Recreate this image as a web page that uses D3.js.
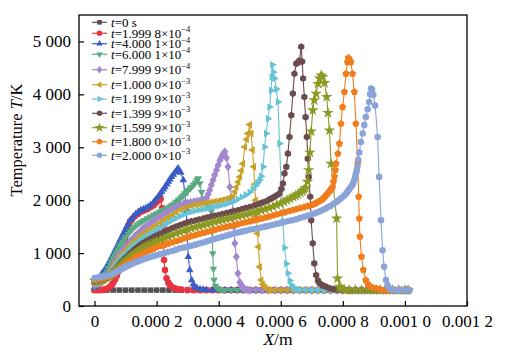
<!DOCTYPE html>
<html><head><meta charset="utf-8">
<script src="https://cdn.jsdelivr.net/npm/d3@7"></script>
<style>
body{margin:0;background:#fff}
svg{display:block}
text{font-family:"Liberation Serif","Times New Roman",serif;fill:#000}
</style>
</head><body>
<svg id="chart" width="510" height="358"></svg>
<script>
// ---------- data (x in micrometres, T in K) ----------
const seriesLabels = ["=0 s","=1.999 8×10","=4.000 1×10","=6.000 1×10","=7.999 9×10","=1.000 0×10","=1.199 9×10","=1.399 9×10","=1.599 9×10","=1.800 0×10","=2.000 0×10"];
const seriesExps = ["","−4","−4","−4","−4","−3","−3","−3","−3","−3","−3"];
const seriesColors = ["#525252","#e8343f","#3a5cc4","#5aab82","#a287cf","#c9a126","#66c3d6","#6b4b4e","#8c9a24","#f07c1c","#8aa4da"];
const seriesSymbols = ["square","circle","triUp","triDown","diamond","triLeft","triRight","hexagon","star","pentagon","circle"];

const s0 = [[0,300],[20,300],[40,300],[60,300],[80,300],[100,300],[120,300],[140,300],[160,300],[180,300],[200,300],[220,300],[240,300],[260,300],[280,300],[300,300],[320,300],[340,300],[360,300],[380,300],[400,300],[420,300],[440,300],[460,300],[480,300],[500,300],[520,300],[540,300],[560,300],[580,300],[600,300],[620,300],[640,300],[660,300],[680,300],[700,300],[720,300],[740,300],[760,300],[780,300],[800,300],[820,300],[840,300],[860,300],[880,300],[900,300],[920,300],[940,300],[960,300],[980,300],[1000,300],[1010,300]];
const s1 = [[0,300],[10,300],[20,300],[28,305],[34,310],[40,325],[45,340],[50,365],[56,400],[61,445],[66,500],[72,570],[77,650],[82,780],[88,950],[93,1100],[99,1250],[104,1450],[110,1530],[115,1600],[122,1650],[130,1700],[140,1740],[150,1780],[160,1805],[170,1830],[180,1865],[190,1900],[198,1950],[205,1990],[213,2020],[218,1850],[221,1500],[224,870],[227,680],[232,525],[238,440],[243,395],[250,360],[259,335],[270,318],[280,310],[300,300],[320,300],[340,300],[360,300],[380,300],[400,300],[420,300],[440,300],[460,300],[480,300],[500,300],[520,300],[540,300],[560,300],[580,300],[600,300],[620,300],[640,300],[660,300],[680,300],[700,300],[720,300],[740,300],[760,300],[780,300],[800,300],[820,300],[840,300],[860,300],[880,300],[900,300],[920,300],[940,300],[960,300],[980,300],[1000,300],[1010,300]];
const s2 = [[0,350],[6,380],[12,450],[18,530],[24,615],[30,660],[35,700],[40,750],[45,805],[50,860],[56,930],[61,990],[66,1055],[72,1120],[77,1180],[82,1245],[88,1310],[93,1375],[99,1440],[104,1500],[109,1560],[117,1630],[125,1690],[133,1740],[141,1780],[149,1810],[157,1830],[165,1850],[173,1875],[181,1910],[190,1960],[197,2010],[205,2065],[211,2110],[216,2160],[222,2205],[227,2250],[233,2300],[238,2350],[243,2395],[248,2440],[254,2485],[260,2530],[265,2570],[270,2600],[278,2520],[286,2380],[291,2125],[296,1800],[299,1300],[302,930],[307,680],[313,490],[318,410],[323,365],[330,340],[340,320],[350,310],[360,300],[380,300],[400,300],[420,300],[440,300],[460,300],[480,300],[500,300],[520,300],[540,300],[560,300],[580,300],[600,300],[620,300],[640,300],[660,300],[680,300],[700,300],[720,300],[740,300],[760,300],[780,300],[800,300],[820,300],[840,300],[860,300],[880,300],[900,300],[920,300],[940,300],[960,300],[980,300],[1000,300],[1010,300]];
const s3 = [[0,380],[10,410],[20,440],[25,490],[30,540],[35,595],[40,650],[45,715],[50,780],[55,840],[60,900],[65,955],[70,1010],[75,1065],[80,1120],[85,1165],[90,1210],[95,1255],[100,1300],[108,1355],[115,1410],[122,1455],[130,1500],[137,1535],[145,1570],[152,1595],[160,1620],[170,1655],[180,1690],[190,1720],[200,1750],[210,1780],[220,1810],[230,1840],[240,1870],[248,1900],[255,1930],[262,1965],[270,2000],[276,2030],[281,2060],[286,2090],[291,2125],[297,2160],[302,2190],[308,2220],[313,2250],[319,2290],[325,2330],[330,2380],[334,2410],[339,2315],[345,2150],[350,2030],[356,1950],[361,1900],[366,1870],[371,1840],[377,1800],[379,1400],[381,995],[383,700],[385,490],[390,380],[396,335],[404,315],[412,305],[420,300],[440,300],[460,300],[480,300],[500,300],[520,300],[540,300],[560,300],[580,300],[600,300],[620,300],[640,300],[660,300],[680,300],[700,300],[720,300],[740,300],[760,300],[780,300],[800,300],[820,300],[840,300],[860,300],[880,300],[900,300],[920,300],[940,300],[960,300],[980,300],[1000,300],[1010,300]];
const s4 = [[0,400],[10,415],[20,430],[25,460],[30,490],[35,525],[40,560],[45,610],[50,660],[55,715],[60,770],[65,820],[70,870],[75,915],[80,960],[85,1000],[90,1040],[95,1080],[100,1120],[108,1170],[115,1220],[122,1270],[130,1320],[137,1360],[145,1400],[152,1440],[160,1480],[170,1525],[180,1570],[190,1610],[200,1650],[212,1695],[225,1740],[237,1785],[250,1830],[263,1870],[276,1910],[288,1930],[300,1950],[310,1960],[320,1970],[330,1980],[340,1988],[350,1995],[356,2010],[361,2030],[366,2110],[371,2190],[376,2285],[382,2380],[387,2475],[393,2570],[398,2660],[404,2755],[408,2800],[412,2850],[416,2885],[420,2915],[425,2800],[430,2630],[436,2250],[441,2050],[446,1800],[449,1500],[452,1185],[457,930],[462,615],[468,450],[473,395],[478,350],[484,320],[492,305],[500,300],[520,300],[540,300],[560,300],[580,300],[600,300],[620,300],[640,300],[660,300],[680,300],[700,300],[720,300],[740,300],[760,300],[780,300],[800,300],[820,300],[840,300],[860,300],[880,300],[900,300],[920,300],[940,300],[960,300],[980,300],[1000,300],[1010,300]];
const s5 = [[0,420],[10,435],[20,450],[25,470],[30,490],[35,515],[40,540],[45,585],[50,630],[55,675],[60,720],[65,765],[70,810],[75,855],[80,900],[85,940],[90,980],[95,1015],[100,1050],[108,1095],[115,1140],[122,1185],[130,1230],[137,1270],[145,1310],[152,1345],[160,1380],[170,1420],[180,1460],[190,1495],[200,1530],[212,1580],[225,1630],[237,1675],[250,1720],[263,1770],[276,1820],[288,1845],[300,1870],[312,1890],[325,1910],[337,1925],[350,1940],[362,1952],[375,1965],[387,1977],[400,1990],[412,2005],[425,2025],[435,2045],[446,2065],[452,2160],[457,2250],[463,2345],[468,2440],[473,2560],[478,2690],[484,3005],[490,3150],[494,3260],[500,3430],[505,3260],[509,2950],[513,2630],[516,2300],[519,2000],[522,1700],[525,1370],[528,1120],[532,740],[537,490],[542,410],[548,365],[556,320],[564,300],[580,300],[600,300],[620,300],[640,300],[660,300],[680,300],[700,300],[720,300],[740,300],[760,300],[780,300],[800,300],[820,300],[840,300],[860,300],[880,300],[900,300],[920,300],[940,300],[960,300],[980,300],[1000,300],[1010,300]];
const s6 = [[0,440],[10,455],[20,470],[25,485],[30,500],[35,515],[40,530],[45,565],[50,600],[55,640],[60,680],[65,720],[70,760],[75,800],[80,840],[85,875],[90,910],[95,945],[100,980],[108,1025],[115,1070],[122,1110],[130,1150],[137,1185],[145,1220],[152,1255],[160,1290],[170,1325],[180,1360],[190,1395],[200,1430],[212,1480],[225,1530],[237,1575],[250,1620],[263,1660],[276,1700],[288,1730],[300,1760],[312,1780],[325,1800],[337,1815],[350,1830],[362,1845],[375,1860],[387,1875],[400,1890],[412,1910],[425,1930],[437,1955],[450,1980],[462,2020],[475,2060],[487,2100],[500,2150],[510,2210],[520,2280],[526,2330],[532,2380],[537,2450],[543,2630],[548,3005],[553,3260],[559,3540],[564,3760],[569,4075],[571,4330],[573,4560],[576,4420],[580,4300],[586,4100],[591,3855],[596,3070],[602,2200],[607,1600],[612,1100],[618,800],[623,620],[629,480],[634,400],[640,355],[645,330],[652,315],[660,305],[680,300],[700,300],[720,300],[740,300],[760,300],[780,300],[800,300],[820,300],[840,300],[860,300],[880,300],[900,300],[920,300],[940,300],[960,300],[980,300],[1000,300],[1010,300]];
const s7 = [[0,460],[10,470],[20,490],[30,505],[40,530],[45,555],[50,580],[55,610],[60,640],[65,675],[70,710],[75,745],[80,780],[85,815],[90,850],[95,880],[100,910],[108,950],[115,990],[122,1030],[130,1070],[137,1105],[145,1140],[152,1170],[160,1200],[170,1235],[180,1270],[190,1300],[200,1330],[212,1365],[225,1400],[237,1435],[250,1470],[263,1500],[276,1530],[288,1555],[300,1580],[312,1598],[325,1615],[337,1632],[350,1650],[362,1670],[375,1690],[387,1705],[400,1720],[412,1738],[425,1755],[437,1772],[450,1790],[462,1810],[475,1830],[487,1850],[500,1870],[515,1900],[530,1930],[541,1955],[553,1980],[564,2015],[575,2050],[585,2085],[596,2125],[602,2210],[607,2315],[612,2505],[618,2630],[623,2880],[628,3195],[634,3605],[639,4015],[644,4390],[650,4580],[655,4600],[660,4640],[666,4900],[669,4620],[672,4300],[676,3950],[680,3570],[684,3195],[687,2785],[690,2440],[695,2065],[698,1620],[703,1185],[708,805],[714,585],[720,480],[725,430],[735,390],[746,365],[758,335],[770,320],[785,305],[800,300],[820,300],[840,300],[860,300],[880,300],[900,300],[920,300],[940,300],[960,300],[980,300],[1000,300],[1010,300]];
const s8 = [[0,480],[10,490],[20,510],[30,520],[40,540],[45,560],[50,580],[55,600],[60,620],[65,645],[70,670],[75,700],[80,730],[85,760],[90,790],[95,820],[100,850],[108,885],[115,920],[122,955],[130,990],[137,1020],[145,1050],[152,1080],[160,1110],[170,1140],[180,1170],[190,1195],[200,1220],[212,1250],[225,1280],[237,1310],[250,1340],[263,1370],[276,1400],[288,1425],[300,1450],[312,1470],[325,1490],[337,1510],[350,1530],[362,1550],[375,1570],[387,1590],[400,1610],[412,1628],[425,1645],[437,1662],[450,1680],[462,1698],[475,1715],[487,1732],[500,1750],[512,1770],[525,1790],[537,1810],[550,1830],[562,1855],[575,1880],[587,1910],[600,1940],[610,1970],[620,2000],[630,2030],[640,2060],[648,2085],[655,2110],[663,2140],[670,2170],[675,2200],[680,2230],[686,2350],[690,2570],[694,2900],[698,3300],[703,3700],[708,3890],[714,4015],[720,4200],[725,4300],[730,4360],[735,4330],[741,4215],[748,3950],[752,3650],[757,3320],[762,2690],[780,1655],[783,520],[789,365],[795,330],[805,310],[820,300],[840,300],[860,300],[880,300],[900,300],[920,300],[940,300],[960,300],[980,300],[1000,300],[1010,300]];
const s9 = [[0,500],[10,510],[20,525],[30,535],[40,550],[45,562],[50,575],[55,592],[60,610],[65,630],[70,650],[75,670],[80,690],[85,715],[90,740],[95,765],[100,790],[108,820],[115,850],[122,880],[130,910],[137,935],[145,960],[152,985],[160,1010],[170,1035],[180,1060],[190,1085],[200,1110],[212,1133],[225,1155],[237,1178],[250,1200],[263,1225],[276,1250],[288,1275],[300,1300],[312,1320],[325,1340],[337,1360],[350,1380],[362,1400],[375,1420],[387,1440],[400,1460],[412,1478],[425,1495],[437,1512],[450,1530],[462,1548],[475,1565],[487,1582],[500,1600],[512,1618],[525,1635],[537,1652],[550,1670],[562,1690],[575,1710],[587,1730],[600,1750],[612,1770],[625,1790],[637,1810],[650,1830],[662,1850],[675,1870],[687,1890],[700,1910],[708,1930],[715,1950],[722,1975],[730,2000],[735,2025],[740,2050],[745,2085],[750,2120],[755,2155],[760,2190],[764,2220],[767,2250],[770,2350],[773,2450],[776,2570],[778,2690],[784,2880],[789,3070],[794,3445],[799,3760],[805,4045],[810,4390],[815,4610],[818,4690],[821,4660],[826,4610],[831,4390],[837,4045],[842,3445],[848,2690],[851,2065],[853,1655],[855,1310],[860,930],[866,680],[874,490],[880,420],[885,378],[895,350],[907,335],[920,315],[935,305],[950,300],[970,300],[990,300],[1005,300]];
const s10 = [[0,530],[10,540],[20,550],[30,560],[40,570],[45,580],[50,590],[55,600],[60,610],[65,628],[70,645],[75,662],[80,680],[85,695],[90,710],[95,725],[100,740],[108,760],[115,780],[122,800],[130,820],[137,838],[145,855],[152,872],[160,890],[170,908],[180,925],[190,943],[200,960],[212,980],[225,1000],[237,1020],[250,1040],[263,1065],[276,1090],[288,1105],[300,1120],[312,1140],[325,1160],[337,1180],[350,1200],[362,1222],[375,1245],[387,1268],[400,1290],[412,1310],[425,1330],[437,1350],[450,1370],[462,1388],[475,1405],[487,1422],[500,1440],[512,1455],[525,1470],[537,1485],[550,1500],[562,1518],[575,1535],[587,1552],[600,1570],[612,1588],[625,1605],[637,1622],[650,1640],[662,1662],[675,1685],[687,1708],[700,1730],[710,1752],[720,1775],[730,1800],[740,1830],[750,1860],[760,1890],[770,1930],[780,1970],[788,2005],[795,2040],[803,2080],[810,2120],[815,2160],[820,2200],[825,2240],[830,2280],[834,2330],[837,2380],[840,2440],[842,2500],[845,2560],[847,2630],[850,2760],[853,2900],[858,3100],[864,3260],[869,3420],[874,3570],[880,3720],[885,3855],[888,4000],[891,4110],[894,4090],[898,3990],[904,3790],[912,3195],[917,2440],[923,1620],[928,1055],[933,740],[939,490],[944,390],[949,335],[955,315],[962,305],[970,300],[980,300],[990,300],[1000,300],[1010,300],[1015,300]];
const seriesData = [s0,s1,s2,s3,s4,s5,s6,s7,s8,s9,s10];

const xTicks = [0,0.0002,0.0004,0.0006,0.0008,0.0010,0.0012];
const xTickLabels = ["0","0.000 2","0.000 4","0.000 6","0.000 8","0.001 0","0.001 2"];
const yTicks = [0,1000,2000,3000,4000,5000];
const yTickLabels = ["0","1 000","2 000","3 000","4 000","5 000"];

// ---------- layout ----------
const L = 79, R = 467, T = 15, B = 306;
const svg = d3.select("#chart");
const x = d3.scaleLinear().domain([-0.00005, 0.0012]).range([L, R]);
const y = d3.scaleLinear().domain([0, 5500]).range([B, T]);

function poly(n, r, rot, sx) {
  sx = sx || 1;
  const pts = d3.range(n).map(k => {
    const a = rot + k * 2 * Math.PI / n;
    return [sx * r * Math.sin(a), -r * Math.cos(a)];
  });
  return "M" + pts.map(p => p[0].toFixed(2) + "," + p[1].toFixed(2)).join("L") + "Z";
}
function symbolSet(k) {
  return {
    square: poly(4, 3.9 * k, Math.PI / 4),
    circle: d3.symbol(d3.symbolCircle, 34 * k * k)(),
    triUp: poly(3, 4.4 * k, 0),
    triDown: poly(3, 4.4 * k, Math.PI),
    triLeft: poly(3, 4.4 * k, -Math.PI / 2),
    triRight: poly(3, 4.4 * k, Math.PI / 2),
    diamond: poly(4, 4.4 * k, 0, 0.8),
    hexagon: poly(6, 3.6 * k, 0),
    star: d3.symbol(d3.symbolStar, 42 * k * k)(),
    pentagon: poly(5, 3.8 * k, 0)
  };
}
const symbolPaths = symbolSet(1);
const legendSymbols = symbolSet(0.85);

// series
const line = d3.line().x(d => x(d[0] * 1e-6)).y(d => y(d[1]));
const plot = svg.append("g");
seriesData.forEach((data, i) => {
  const g = plot.append("g");
  g.append("path").attr("d", line(data)).attr("fill", "none")
    .attr("stroke", seriesColors[i]).attr("stroke-width", 1.1);
  g.selectAll("path.m").data(data).enter().append("path").attr("class", "m")
    .attr("d", symbolPaths[seriesSymbols[i]])
    .attr("transform", d => `translate(${x(d[0] * 1e-6)},${y(d[1])})`)
    .attr("fill", seriesColors[i]);
});

// frame
svg.append("rect").attr("x", L).attr("y", T).attr("width", R - L).attr("height", B - T)
  .attr("fill", "none").attr("stroke", "#000").attr("stroke-width", 1.3);

// axes
const xAxis = d3.axisBottom(x).tickValues(xTicks).tickFormat((d, i) => xTickLabels[i])
  .tickSizeInner(-5).tickSizeOuter(0).tickPadding(9);
const gx = svg.append("g").attr("transform", `translate(0,${B})`).call(xAxis);
gx.select(".domain").remove();
gx.selectAll("line").attr("stroke", "#000").attr("stroke-width", 1.2);
gx.selectAll("text").attr("font-size", 17).style("font-family", '"Liberation Serif",serif');

const yAxis = d3.axisLeft(y).tickValues(yTicks).tickFormat((d, i) => yTickLabels[i])
  .tickSizeInner(-5).tickSizeOuter(0).tickPadding(8);
const gy = svg.append("g").attr("transform", `translate(${L},0)`).call(yAxis);
gy.select(".domain").remove();
gy.selectAll("line").attr("stroke", "#000").attr("stroke-width", 1.2);
gy.selectAll("text").attr("font-size", 17).style("font-family", '"Liberation Serif",serif');

// axis titles
const yt = svg.append("text").attr("transform", "translate(22,140) rotate(-90)")
  .attr("text-anchor", "middle").attr("font-size", 16.5);
yt.append("tspan").text("Temperature ");
yt.append("tspan").attr("font-style", "italic").text("T");
yt.append("tspan").text("/K");
const xt = svg.append("text").attr("x", 278).attr("y", 345).attr("text-anchor", "middle").attr("font-size", 17.5);
xt.append("tspan").attr("font-style", "italic").text("X");
xt.append("tspan").text("/m");

// legend
const legendY = [22.3, 33.3, 43.7, 54.3, 69.7, 84.7, 99, 113.3, 127.7, 141.7, 155.3];
const lg = svg.append("g");
seriesLabels.forEach((lab, i) => {
  const yy = legendY[i];
  lg.append("line").attr("x1", 92).attr("x2", 107).attr("y1", yy).attr("y2", yy)
    .attr("stroke", seriesColors[i]).attr("stroke-width", 1.2);
  lg.append("path").attr("d", legendSymbols[seriesSymbols[i]])
    .attr("transform", `translate(99.5,${yy})`).attr("fill", seriesColors[i]);
  const t = lg.append("text").attr("x", 111).attr("y", yy + 4.3).attr("font-size", 13);
  t.append("tspan").attr("font-style", "italic").text("t");
  t.append("tspan").text(lab);
  if (seriesExps[i]) t.append("tspan").attr("font-size", 8.5).attr("dy", -5.3).text(seriesExps[i]);
});
</script>
</body></html>
